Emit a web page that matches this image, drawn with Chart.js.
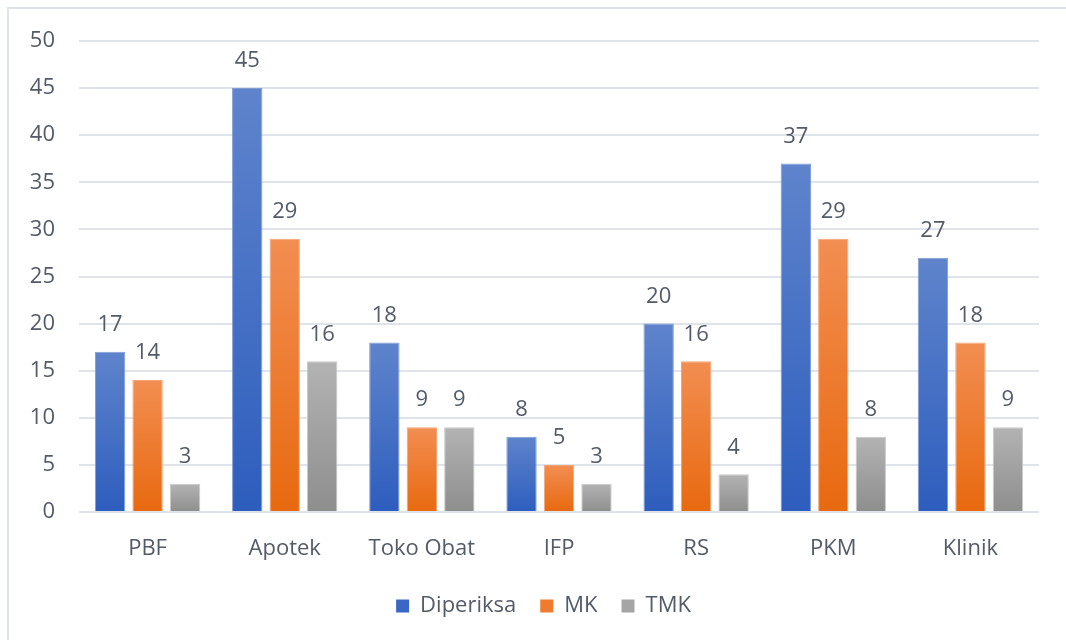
<!DOCTYPE html>
<html>
<head>
<meta charset="utf-8">
<script src="https://cdn.jsdelivr.net/npm/chart.js@4.4.1/dist/chart.umd.min.js"></script>
<style>
  body { margin: 0; background: #fff; }
  #wrap { position: relative; width: 1066px; height: 640px; overflow: hidden; }
  #frame { position: absolute; left: 7px; top: 7px; width: 1100px; height: 700px; border: 2px solid #dfe3ea; box-sizing: border-box; }
  #chart { position: absolute; left: 0; top: 0; }
</style>
</head>
<body>
<div id="wrap">
  <div id="frame"></div>
  <canvas id="chart" width="1066" height="640"></canvas>
</div>
<script>
const categories = ['PBF', 'Apotek', 'Toko Obat', 'IFP', 'RS', 'PKM', 'Klinik'];
const diperiksa = [17, 45, 18, 8, 20, 37, 27];
const mk = [14, 29, 9, 5, 16, 29, 18];
const tmk = [3, 16, 9, 3, 4, 8, 9];
const yTicks = [0, 5, 10, 15, 20, 25, 30, 35, 40, 45, 50];

const textColor = '#535b68';
const fontFamily = "'Open Sans', 'Noto Sans', sans-serif";
const fontSize = 22;

// top colour, bottom colour, solid (legend), border
const palette = {
    blue: ['#5f84cc', '#2d5dbd', '#3a67c4', '#7f9bd6'],
    orange: ['#f28e52', '#e8690f', '#ee7b2e', '#f4a374'],
    gray: ['#b3b3b3', '#8e8e8e', '#a5a5a5', '#c8c8c8']
};

const gradientFill = (colors) => (context) => {
    const chart = context.chart;
    if (!chart.chartArea || context.raw === undefined) return colors[2];
    const y = chart.scales.y;
    const top = y.getPixelForValue(context.raw);
    const bottom = y.getPixelForValue(0);
    const g = chart.ctx.createLinearGradient(0, top, 0, bottom);
    g.addColorStop(0, colors[0]);
    g.addColorStop(1, colors[1]);
    return g;
};

const makeDataset = (label, data, colors) => ({
    label: label,
    data: data,
    backgroundColor: gradientFill(colors),
    borderColor: colors[3],
    borderWidth: 1,
    solidColor: colors[2],
    barPercentage: 0.81,
    categoryPercentage: 0.82
});

// draws the value above every bar
const valueLabels = {
    id: 'valueLabels',
    afterDatasetsDraw(chart) {
        const ctx = chart.ctx;
        ctx.save();
        ctx.font = fontSize + 'px ' + fontFamily;
        ctx.fillStyle = textColor;
        ctx.textAlign = 'center';
        ctx.textBaseline = 'middle';
        chart.data.datasets.forEach((ds, i) => {
            const meta = chart.getDatasetMeta(i);
            meta.data.forEach((bar, j) => {
                ctx.fillText(String(ds.data[j]), bar.x, bar.y - 27);
            });
        });
        ctx.restore();
    }
};

// nudge the legend to the right so it sits where the original one does
const legendShift = {
    id: 'legendShift',
    afterLayout(chart) {
        chart.legend.left += 24;
        chart.legend.right += 24;
    }
};

new Chart(document.getElementById('chart'), {
    type: 'bar',
    data: {
        labels: categories,
        datasets: [
            makeDataset('Diperiksa', diperiksa, palette.blue),
            makeDataset('MK', mk, palette.orange),
            makeDataset('TMK', tmk, palette.gray)
        ]
    },
    options: {
        responsive: false,
        animation: false,
        layout: { padding: { left: 0, right: 27, top: 41, bottom: 13 } },
        scales: {
            x: {
                grid: { display: false },
                border: { display: false },
                ticks: { color: textColor, font: { size: fontSize, family: fontFamily }, padding: 16 },
                afterFit: (scale) => { scale.height = 59; }
            },
            y: {
                min: 0,
                max: 50,
                afterBuildTicks: (scale) => { scale.ticks = yTicks.map(v => ({ value: v })); },
                grid: { color: '#dfe3ea', lineWidth: 2, drawTicks: false },
                border: { display: false },
                ticks: { color: textColor, font: { size: fontSize, family: fontFamily }, padding: 24 },
                afterFit: (scale) => { scale.width = 79; }
            }
        },
        plugins: {
            tooltip: { enabled: false },
            legend: {
                position: 'bottom',
                labels: {
                    color: textColor,
                    font: { size: fontSize, family: fontFamily },
                    boxWidth: 13,
                    boxHeight: 13,
                    padding: 24,
                    generateLabels: (chart) => chart.data.datasets.map((ds, i) => ({
                        text: ds.label,
                        fillStyle: ds.solidColor,
                        strokeStyle: ds.solidColor,
                        lineWidth: 0,
                        fontColor: textColor,
                        hidden: false,
                        datasetIndex: i
                    }))
                }
            }
        }
    },
    plugins: [valueLabels, legendShift]
});
</script>
</body>
</html>
